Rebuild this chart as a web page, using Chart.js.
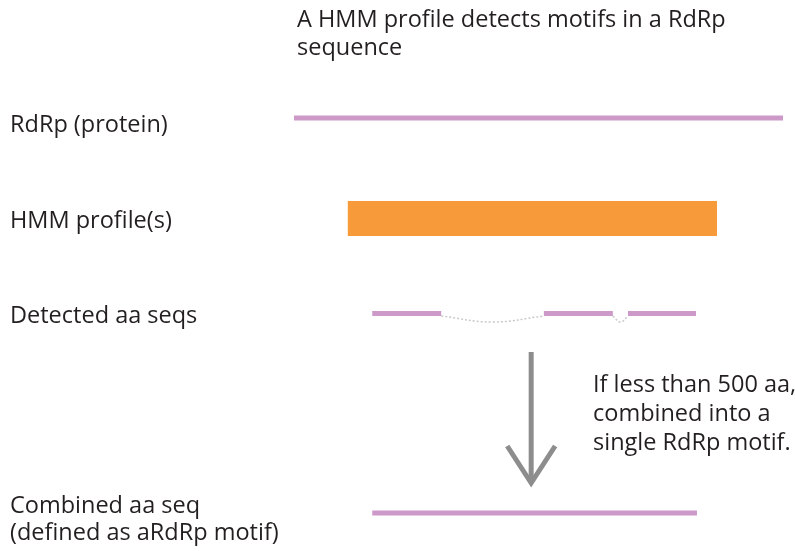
<!DOCTYPE html>
<html>
<head>
<meta charset="utf-8">
<script src="https://cdn.jsdelivr.net/npm/chart.js@4"></script>
<style>
  html, body { margin: 0; padding: 0; background: #fff; }
  #wrap { width: 795px; height: 551px; }
</style>
</head>
<body>
<div id="wrap"><canvas id="motifChart" width="795" height="551"></canvas></div>
<script>
// positions along the RdRp protein, in aa
const proteinLength = 1000;
const hmmProfile = [110, 865];
const detectedSegs = [[160, 301], [511, 652], [683, 822]];
const combinedSeg = [160, 824];

// track rows (vertical position)
const rowProtein = 118;
const rowHmm = 218.5;
const rowDetected = 313.5;
const rowCombined = 513;

const rowLabels = [
  { text: 'RdRp (protein)', y: 132 },
  { text: 'HMM profile(s)', y: 228 },
  { text: 'Detected aa seqs', y: 323 },
  { text: 'Combined aa seq', y: 513 },
  { text: '(defined as aRdRp motif)', y: 540 }
];
const titleLines = ['A HMM profile detects motifs in a RdRp', 'sequence'];
const noteLines = ['If less than 500 aa,', 'combined into a', 'single RdRp motif.'];

const pink = '#cc99c9';
const orange = '#f79b3a';
const grey = '#8d8d8d';

function seg(a, b, y, color, w) {
  return {
    data: [{ x: a, y: y }, { x: b, y: y }],
    borderColor: color,
    borderWidth: w,
    borderCapStyle: 'butt',
    pointRadius: 0
  };
}

const datasets = [];
datasets.push(seg(0, proteinLength, rowProtein, pink, 5));
datasets.push(seg(hmmProfile[0], hmmProfile[1], rowHmm, orange, 35));
detectedSegs.forEach(s => datasets.push(seg(s[0], s[1], rowDetected, pink, 5)));

// dotted arcs over the gaps
for (let i = 0; i < detectedSegs.length - 1; i++) {
  const a = detectedSegs[i][1], b = detectedSegs[i + 1][0];
  datasets.push({
    data: [{ x: a, y: rowDetected + 2.5 }, { x: (a + b) / 2, y: rowDetected + 8.5 }, { x: b, y: rowDetected + 2.5 }],
    borderColor: '#c9c9c9',
    borderWidth: 1.5,
    borderDash: [2, 2],
    tension: 0.45,
    pointRadius: 0
  });
}

datasets.push(seg(combinedSeg[0], combinedSeg[1], rowCombined, pink, 5));

// arrow
const arrowX = 485;
datasets.push(seg(arrowX, arrowX, 352, grey, 5));
datasets.push({
  data: [{ x: arrowX - 49, y: 446 }, { x: arrowX, y: 483 }, { x: arrowX + 49, y: 446 }],
  borderColor: grey,
  borderWidth: 5,
  borderJoinStyle: 'miter',
  pointRadius: 0
});
datasets[datasets.length - 2].data[1].y = 481;

const textPlugin = {
  id: 'labels',
  afterDraw(chart) {
    const c = chart.ctx;
    c.save();
    c.fillStyle = '#231f20';
    c.font = '23.5px "Open Sans"';
    c.textBaseline = 'alphabetic';
    c.textAlign = 'left';
    titleLines.forEach((t, i) => c.fillText(t, 297, 27 + i * 28));
    rowLabels.forEach(l => c.fillText(l.text, 10, l.y));
    noteLines.forEach((t, i) => c.fillText(t, 593, 392 + i * 29));
    c.restore();
  }
};

new Chart(document.getElementById('motifChart'), {
  type: 'line',
  data: { datasets: datasets },
  options: {
    responsive: false,
    animation: false,
    layout: { padding: 0 },
    plugins: { legend: { display: false }, tooltip: { enabled: false } },
    scales: {
      x: { type: 'linear', display: false, min: -601.2, max: 1024.5 },
      y: { type: 'linear', display: false, min: 0, max: 551, reverse: true }
    }
  },
  plugins: [textPlugin]
});
</script>
</body>
</html>
